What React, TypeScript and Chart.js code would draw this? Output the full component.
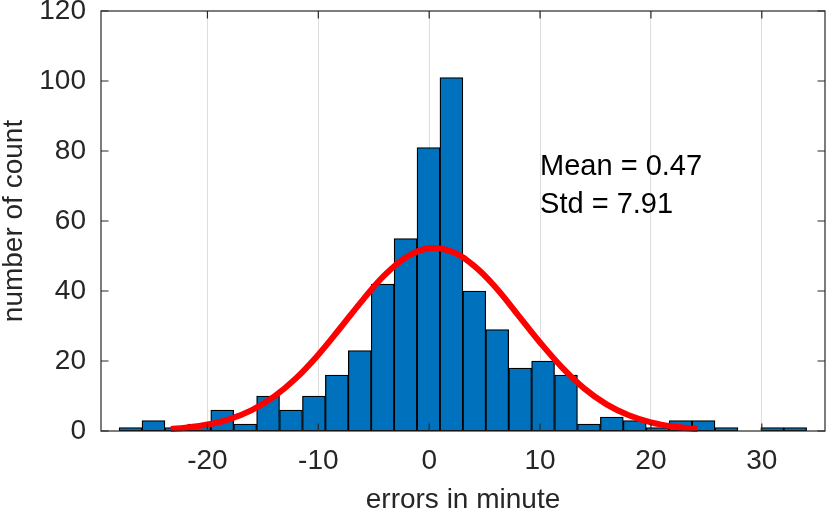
import { useEffect, useRef } from "react";
import { Chart, registerables } from "chart.js";

Chart.register(...registerables);

// histogram bins (centres) and counts
const binCenters = [
  -26.933, -24.866, -22.799, -20.732, -18.665, -16.598, -14.531, -12.464, -10.397, -8.33,
  -6.263, -4.196, -2.129, -0.062, 2.005, 4.072, 6.139, 8.206, 10.273, 12.34,
  14.407, 16.474, 18.541, 20.608, 22.675, 24.742, 26.809, 28.876, 30.943, 33.01,
];
const binCounts = [
  1, 3, 1, 2, 6, 2, 10, 6, 10, 16,
  23, 42, 55, 81, 101, 40, 29, 18, 20, 16,
  2, 4, 3, 1, 3, 3, 1, 0, 1, 1,
];

// fitted normal curve
const fitX = [-23.3, -22, -20, -18, -16, -14, -12, -10, -8, -6, -4, -2, 0, 2, 4, 6, 8, 10, 12, 14, 16, 18, 20, 22, 24.2];
const fitY = [0.57, 0.92, 1.84, 3.42, 5.98, 9.81, 15.1, 21.8, 29.5, 37.4, 44.6, 49.8, 52.2, 51.3, 47.3, 41.0, 33.2, 25.3, 18.1, 12.1, 7.6, 4.49, 2.48, 1.29, 0.58];

const xTicks = [-20, -10, 0, 10, 20, 30];
const yTicks = [0, 20, 40, 60, 80, 100, 120];

const statLines = ["Mean = 0.47", "Std = 7.91"];
const statX = 10;
const statY = 70;

const FONT = '"Liberation Sans", Arial, Helvetica, sans-serif';
const AXIS_COLOR = "#262626";

const framePlugin = {
  id: "frame",
  afterDatasetsDraw(chart: any) {
    const { ctx, chartArea: a, scales } = chart;
    const x = scales.x;
    const y = scales.y;
    const tl = 7.5;
    ctx.save();
    ctx.strokeStyle = AXIS_COLOR;
    ctx.lineWidth = 1.2;
    ctx.beginPath();
    for (const v of xTicks) {
      const px = x.getPixelForValue(v);
      ctx.moveTo(px, a.bottom);
      ctx.lineTo(px, a.bottom - tl);
      ctx.moveTo(px, a.top);
      ctx.lineTo(px, a.top + tl);
    }
    for (const v of yTicks) {
      const py = y.getPixelForValue(v);
      ctx.moveTo(a.left, py);
      ctx.lineTo(a.left + tl, py);
      ctx.moveTo(a.right, py);
      ctx.lineTo(a.right - tl, py);
    }
    ctx.stroke();
    ctx.strokeRect(a.left, a.top, a.right - a.left, a.bottom - a.top);

    ctx.fillStyle = "#000000";
    ctx.font = `29px ${FONT}`;
    ctx.textAlign = "left";
    ctx.textBaseline = "middle";
    const sx = x.getPixelForValue(statX);
    const sy = y.getPixelForValue(statY);
    const lh = 37.3;
    statLines.forEach((t, i) => {
      ctx.fillText(t, sx, sy + (i - (statLines.length - 1) / 2) * lh);
    });
    ctx.restore();
  },
};

export default function App() {
  const canvasRef = useRef<HTMLCanvasElement>(null);
  const chartRef = useRef<Chart | null>(null);

  useEffect(() => {
    if (!canvasRef.current) return;
    const context = canvasRef.current.getContext("2d");
    if (!context) return;

    if (chartRef.current) {
      chartRef.current.destroy();
    }

    chartRef.current = new Chart(context, {
      type: "bar",
      data: {
        datasets: [
          {
            type: "line",
            data: fitX.map((v, i) => ({ x: v, y: fitY[i] })),
            borderColor: "#ff0000",
            borderWidth: 6,
            pointRadius: 0,
            tension: 0.4,
            fill: false,
            clip: false,
            order: 0,
          } as any,
          {
            type: "bar",
            data: binCenters.map((v, i) => ({ x: v, y: binCounts[i] })),
            backgroundColor: "#0072BD",
            borderColor: "#000000",
            borderWidth: 1.3,
            borderSkipped: false,
            barPercentage: 1,
            categoryPercentage: 1,
            order: 1,
          } as any,
        ],
      },
      options: {
        responsive: false,
        animation: false,
        layout: { padding: { top: 11, right: 5, left: 0, bottom: 0 } },
        plugins: {
          legend: { display: false },
          tooltip: { enabled: false },
        },
        scales: {
          x: {
            type: "linear",
            min: -29.6,
            max: 35.7,
            offset: false,
            grid: { color: "#dedede", lineWidth: 1, drawTicks: false, offset: false },
            border: { display: false },
            afterBuildTicks: (axis: any) => {
              axis.ticks = xTicks.map((v) => ({ value: v }));
            },
            afterFit: (axis: any) => {
              axis.height = 87;
              axis.paddingLeft = 0;
              axis.paddingRight = 0;
            },
            ticks: {
              color: AXIS_COLOR,
              font: { family: FONT, size: 28 },
              padding: 13,
              maxRotation: 0,
              autoSkip: false,
            },
            title: {
              display: true,
              text: "errors in minute",
              color: AXIS_COLOR,
              font: { family: FONT, size: 28, lineHeight: 1.2 },
              padding: { top: 0, bottom: 1 },
            },
          },
          y: {
            type: "linear",
            min: 0,
            max: 120,
            grid: { display: false, drawTicks: false },
            border: { display: false },
            afterBuildTicks: (axis: any) => {
              axis.ticks = yTicks.map((v) => ({ value: v }));
            },
            afterFit: (axis: any) => {
              axis.width = 101;
              axis.paddingTop = 0;
              axis.paddingBottom = 0;
            },
            ticks: {
              color: AXIS_COLOR,
              font: { family: FONT, size: 28 },
              padding: 15,
            },
            title: {
              display: true,
              text: "number of count",
              color: AXIS_COLOR,
              font: { family: FONT, size: 28, lineHeight: 1.0 },
              padding: 0,
            },
          },
        },
      },
      plugins: [framePlugin],
    });

    return () => {
      chartRef.current?.destroy();
      chartRef.current = null;
    };
  }, []);

  return (
    <div style={{ position: "fixed", left: 0, top: 0, width: 830, height: 518, background: "#ffffff" }}>
      <canvas ref={canvasRef} width={830} height={518} />
    </div>
  );
}
